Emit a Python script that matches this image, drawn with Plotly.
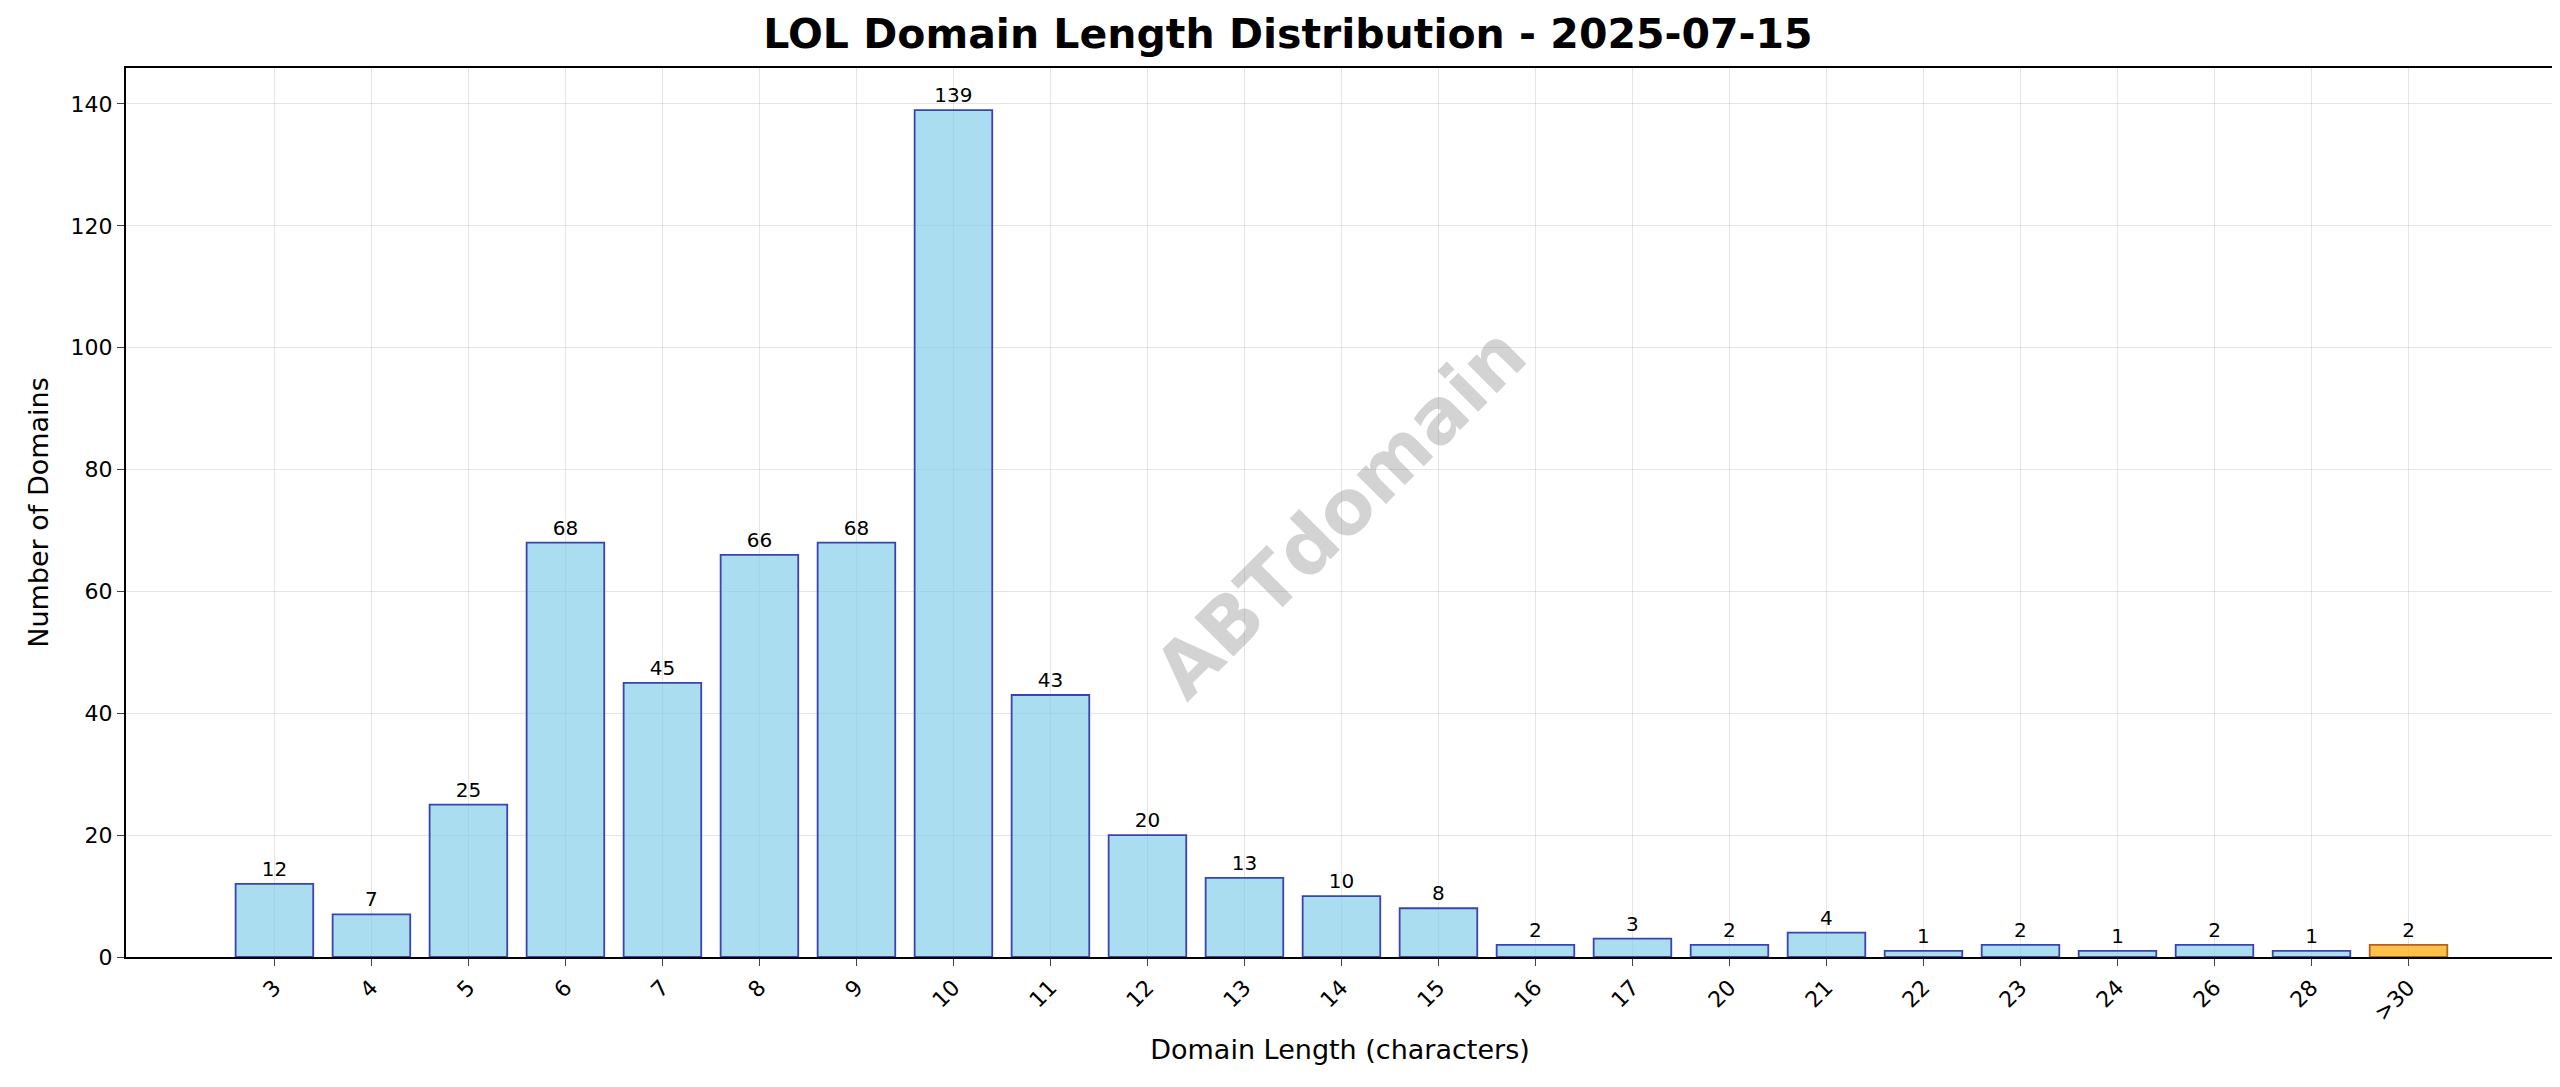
import plotly.graph_objects as go

categories = ["3","4","5","6","7","8","9","10","11","12","13","14","15","16","17","20","21","22","23","24","26","28",">30"]
counts = [12,7,25,68,45,66,68,139,43,20,13,10,8,2,3,2,4,1,2,1,2,1,2]

fill = ["rgba(135,206,235,0.7)"]*(len(categories)-1) + ["rgba(255,165,0,0.7)"]
edge = ["#3B44AE"]*(len(categories)-1) + ["#B4631E"]

fig = go.Figure(go.Bar(
    x=list(range(len(categories))), y=counts, width=0.8,
    marker=dict(color=fill, line=dict(color=edge, width=1.8)),
    text=[str(c) for c in counts], textposition="outside", cliponaxis=False,
    textfont=dict(size=20, color="black", family="DejaVu Sans"),
))
fig.update_layout(
    width=2560, height=1087, plot_bgcolor="white", paper_bgcolor="white",
    margin=dict(l=118, r=14, t=60, b=138),
    font=dict(family="DejaVu Sans", color="black"),
    title=dict(text="<b>LOL Domain Length Distribution - 2025-07-15</b>", x=0.5, xanchor="center",
               y=0.99, yanchor="top", font=dict(size=41)),
    showlegend=False, bargap=0.2,
    annotations=[dict(text="<b>ABTdomain</b>", x=0.5, y=0.5, xref="paper", yref="paper",
                      textangle=-45, showarrow=False, font=dict(size=76, color="rgba(128,128,128,0.35)"))],
)
fig.update_xaxes(range=[-1.53, 23.5], tickmode="array", tickvals=list(range(len(categories))),
                 ticktext=categories, tickangle=-45, tickfont=dict(size=22),
                 showgrid=True, gridcolor="rgba(0,0,0,0.1)", showline=True, linecolor="black",
                 linewidth=2, mirror=True, ticks="outside", ticklen=7,
                 title=dict(text="Domain Length (characters)", font=dict(size=27), standoff=16))
fig.update_yaxes(range=[0, 145.9], dtick=20, tickfont=dict(size=22),
                 showgrid=True, gridcolor="rgba(0,0,0,0.1)", showline=True, linecolor="black",
                 linewidth=2, mirror=True, ticks="outside", ticklen=7, zeroline=False,
                 title=dict(text="Number of Domains", font=dict(size=27), standoff=14))
fig.write_html("out.html")
